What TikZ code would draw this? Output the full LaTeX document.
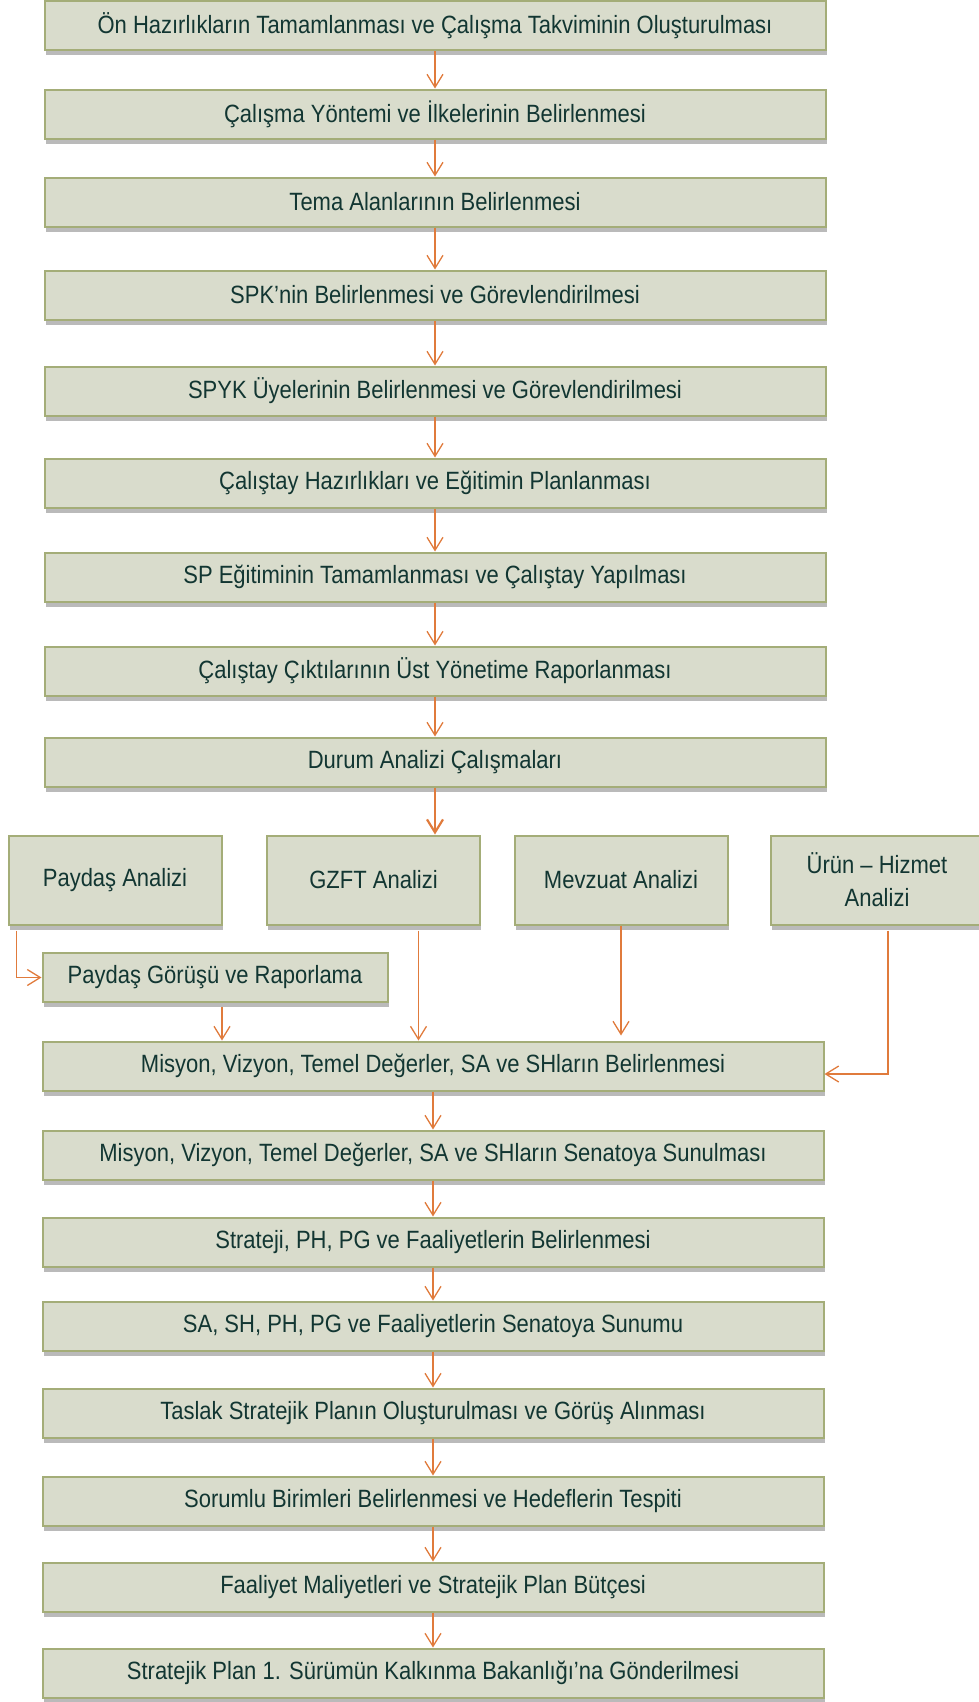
\documentclass[tikz,border=0pt]{standalone}
\usepackage{fontspec}
\setmainfont[FakeStretch=0.88]{Liberation Sans}
\usetikzlibrary{arrows.meta,shadows}
\definecolor{kutudolgu}{HTML}{D9DCCC}
\definecolor{kutucizgi}{HTML}{A4AD78}
\definecolor{yazirenk}{HTML}{123632}
\definecolor{okrenk}{HTML}{E07B3C}
\tikzset{
  kutu/.style={draw=kutucizgi, line width=2pt, fill=kutudolgu, text=yazirenk,
    minimum width=781pt, minimum height=49pt, inner sep=0pt, align=center,
    font=\fontsize{25}{33}\selectfont,
    drop shadow={shadow xshift=1pt, shadow yshift=-5pt, fill=black!45, opacity=.6}},
  kucuk/.style={kutu, minimum width=213pt, minimum height=89pt},
  ok/.style={draw=okrenk, line width=1.3pt, -{Straight Barb[length=13pt,width=16pt]}}
}

\begin{document}
\begin{tikzpicture}[x=1pt, y=-1pt]
\useasboundingbox (0,0) rectangle (979,1702);
% ana akis
\node[kutu] (on) at (435,26) {Ön Hazırlıkların Tamamlanması ve Çalışma Takviminin Oluşturulması};
\node[kutu] (yontem) at (435,114) {Çalışma Yöntemi ve İlkelerinin Belirlenmesi};
\node[kutu] (tema) at (435,202) {Tema Alanlarının Belirlenmesi};
\node[kutu] (spk) at (435,295) {SPK’nin Belirlenmesi ve Görevlendirilmesi};
\node[kutu] (spyk) at (435,391) {SPYK Üyelerinin Belirlenmesi ve Görevlendirilmesi};
\node[kutu] (hazirlik) at (435,483) {Çalıştay Hazırlıkları ve Eğitimin Planlanması};
\node[kutu] (egitim) at (435,577) {SP Eğitiminin Tamamlanması ve Çalıştay Yapılması};
\node[kutu] (rapor) at (435,671) {Çalıştay Çıktılarının Üst Yönetime Raporlanması};
\node[kutu] (durum) at (435,762) {Durum Analizi Çalışmaları};
% analizler
\node[kucuk] (paydas) at (115,880) {Paydaş Analizi};
\node[kucuk] (gzft) at (373.5,880) {GZFT Analizi};
\node[kucuk] (mevzuat) at (621,880) {Mevzuat Analizi};
\node[kucuk] (urun) at (877,880) {Ürün -- Hizmet\\Analizi};
\node[kutu, minimum width=345pt] (gorus) at (215,977.5) {Paydaş Görüşü ve Raporlama};
% alt akis
\node[kutu] (misyon) at (433,1066) {Misyon, Vizyon, Temel Değerler, SA ve SHların Belirlenmesi};
\node[kutu] (senato) at (433,1155) {Misyon, Vizyon, Temel Değerler, SA ve SHların Senatoya Sunulması};
\node[kutu] (strateji) at (433,1242) {Strateji, PH, PG ve Faaliyetlerin Belirlenmesi};
\node[kutu] (sunum) at (433,1326) {SA, SH, PH, PG ve Faaliyetlerin Senatoya Sunumu};
\node[kutu] (taslak) at (433,1413) {Taslak Stratejik Planın Oluşturulması ve Görüş Alınması};
\node[kutu] (sorumlu) at (433,1501) {Sorumlu Birimleri Belirlenmesi ve Hedeflerin Tespiti};
\node[kutu] (maliyet) at (433,1587) {Faaliyet Maliyetleri ve Stratejik Plan Bütçesi};
\node[kutu] (gonder) at (433,1673) {Stratejik Plan 1. Sürümün Kalkınma Bakanlığı’na Gönderilmesi};
% oklar
\foreach \a/\b in {on/yontem, yontem/tema, tema/spk, spk/spyk, spyk/hazirlik, hazirlik/egitim, egitim/rapor, rapor/durum, misyon/senato, senato/strateji, strateji/sunum, sunum/taslak, taslak/sorumlu, sorumlu/maliyet, maliyet/gonder}
  \draw[ok] (\a.south) -- (\b.north);
\draw[ok, line width=2.2pt] (durum.south) -- (durum.south |- gzft.north);
\draw[ok] ([xshift=9pt, yshift=-5pt]paydas.south west) |- (gorus.west);
\coordinate (gorusalt) at ([xshift=7pt, yshift=-4pt]gorus.south);
\draw[ok] (gorusalt) -- (gorusalt |- misyon.north);
\coordinate (gzftalt) at ([xshift=45pt, yshift=-5pt]gzft.south);
\draw[ok] (gzftalt) -- (gzftalt |- misyon.north);
\draw[ok, shorten >=5pt] (mevzuat.south) -- (mevzuat.south |- misyon.north);
\draw[ok] ([xshift=11pt, yshift=-5pt]urun.south) |- ([yshift=-8pt]misyon.east);
\end{tikzpicture}
\end{document}
